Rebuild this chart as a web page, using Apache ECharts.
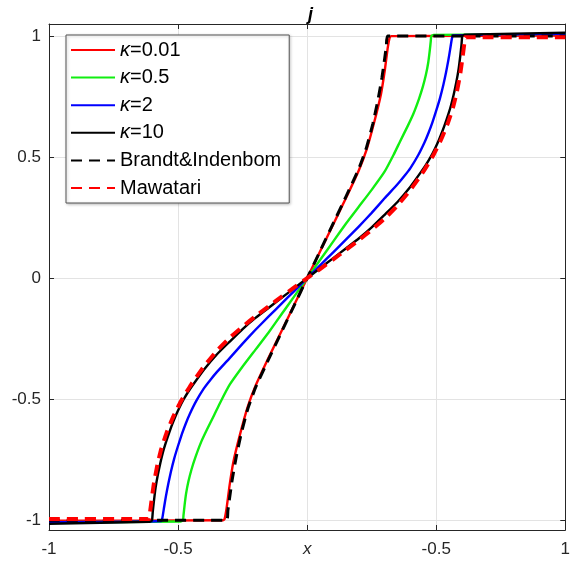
<!DOCTYPE html>
<html>
<head>
<meta charset="utf-8">
<script src="https://cdn.jsdelivr.net/npm/echarts@6/dist/echarts.min.js"></script>
<style>html,body{margin:0;padding:0;background:#fff}#c{width:573px;height:562px}</style>
</head>
<body>
<div id="c"></div>
<script>
// ---- data ----
const xTickValues = [-1, -0.5, 0, 0.5, 1];
const xTickLabels = ['-1', '-0.5', 'x', '-0.5', '1'];
const yTickValues = [-1, -0.5, 0, 0.5, 1];
const yTickLabels = ['-1', '-0.5', '0', '0.5', '1'];
const seriesNames = ['κ=0.01', 'κ=0.5', 'κ=2', 'κ=10', 'Brandt&Indenbom', 'Mawatari'];

const xK001 = [-1, -0.326, -0.32, -0.312, -0.301, -0.286, -0.26, -0.23, -0.2, -0.15, -0.1, -0.05, 0, 0.05, 0.1, 0.15, 0.2, 0.23, 0.26, 0.286, 0.301, 0.312, 0.32, 0.326, 1];
const jK001 = [-1.002, -1.0, -0.995, -0.95, -0.86, -0.76, -0.645, -0.53, -0.445, -0.33, -0.22, -0.11, 0, 0.11, 0.22, 0.33, 0.445, 0.53, 0.645, 0.76, 0.86, 0.95, 0.995, 1.0, 1.002];

const xK05 = [-1, -0.49, -0.481, -0.479, -0.475, -0.469, -0.46, -0.448, -0.433, -0.41, -0.388, -0.36, -0.335, -0.3, -0.25, -0.2, -0.15, -0.1, -0.05, 0, 0.05, 0.1, 0.15, 0.2, 0.25, 0.3, 0.335, 0.36, 0.388, 0.41, 0.433, 0.448, 0.46, 0.469, 0.475, 0.479, 0.481, 0.49, 1];
const jK05 = [-1.008, -1.005, -1.0, -0.98, -0.94, -0.89, -0.84, -0.79, -0.74, -0.675, -0.625, -0.565, -0.51, -0.44, -0.365, -0.295, -0.225, -0.15, -0.075, 0, 0.075, 0.15, 0.225, 0.295, 0.365, 0.44, 0.51, 0.565, 0.625, 0.675, 0.74, 0.79, 0.84, 0.89, 0.94, 0.98, 1.0, 1.005, 1.008];

const xK2 = [-1, -0.565, -0.56, -0.554, -0.547, -0.538, -0.528, -0.515, -0.5, -0.485, -0.47, -0.455, -0.43, -0.4, -0.375, -0.35, -0.3, -0.25, -0.2, -0.15, -0.1, -0.05, 0, 0.05, 0.1, 0.15, 0.2, 0.25, 0.3, 0.35, 0.375, 0.4, 0.43, 0.455, 0.47, 0.485, 0.5, 0.515, 0.528, 0.538, 0.547, 0.554, 0.56, 0.565, 1];
const jK2 = [-1.008, -1.003, -0.985, -0.945, -0.9, -0.85, -0.8, -0.745, -0.692, -0.643, -0.6, -0.562, -0.508, -0.455, -0.42, -0.388, -0.33, -0.27, -0.213, -0.159, -0.106, -0.053, 0, 0.053, 0.106, 0.159, 0.213, 0.27, 0.33, 0.388, 0.42, 0.455, 0.508, 0.562, 0.6, 0.643, 0.692, 0.745, 0.8, 0.85, 0.9, 0.945, 0.985, 1.003, 1.008];

const xK10 = [-1, -0.61, -0.601, -0.598, -0.594, -0.587, -0.578, -0.568, -0.555, -0.54, -0.525, -0.51, -0.495, -0.478, -0.46, -0.44, -0.4, -0.35, -0.3, -0.25, -0.2, -0.15, -0.1, -0.05, 0, 0.05, 0.1, 0.15, 0.2, 0.25, 0.3, 0.35, 0.4, 0.44, 0.46, 0.478, 0.495, 0.51, 0.525, 0.54, 0.555, 0.568, 0.578, 0.587, 0.594, 0.598, 0.601, 0.61, 1];
const jK10 = [-1.014, -1.006, -1.0, -0.965, -0.925, -0.865, -0.81, -0.76, -0.705, -0.655, -0.61, -0.57, -0.535, -0.5, -0.468, -0.437, -0.378, -0.315, -0.262, -0.21, -0.164, -0.123, -0.082, -0.041, 0, 0.041, 0.082, 0.123, 0.164, 0.21, 0.262, 0.315, 0.378, 0.437, 0.468, 0.5, 0.535, 0.57, 0.61, 0.655, 0.705, 0.76, 0.81, 0.865, 0.925, 0.965, 1.0, 1.006, 1.014];

const xBrandt = [-1, -0.312, -0.307, -0.3, -0.29, -0.275, -0.255, -0.23, -0.2, -0.15, -0.1, -0.05, 0, 0.05, 0.1, 0.15, 0.2, 0.23, 0.255, 0.275, 0.29, 0.3, 0.307, 0.312, 1];
const jBrandt = [-1.0, -1.0, -0.96, -0.905, -0.83, -0.74, -0.64, -0.54, -0.452, -0.336, -0.224, -0.112, 0, 0.112, 0.224, 0.336, 0.452, 0.54, 0.64, 0.74, 0.83, 0.905, 0.96, 1.0, 1.0];

const xMawatari = [-1, -0.612, -0.609, -0.603, -0.594, -0.58, -0.565, -0.545, -0.52, -0.49, -0.45, -0.4, -0.35, -0.3, -0.25, -0.2, -0.15, -0.1, -0.05, 0, 0.05, 0.1, 0.15, 0.2, 0.25, 0.3, 0.35, 0.4, 0.45, 0.49, 0.52, 0.545, 0.565, 0.58, 0.594, 0.603, 0.609, 0.612, 1];
const jMawatari = [-0.995, -0.995, -0.97, -0.92, -0.85, -0.77, -0.705, -0.64, -0.575, -0.51, -0.44, -0.365, -0.3, -0.246, -0.2, -0.157, -0.117, -0.077, -0.038, 0, 0.038, 0.077, 0.117, 0.157, 0.2, 0.246, 0.3, 0.365, 0.44, 0.51, 0.575, 0.64, 0.705, 0.77, 0.85, 0.92, 0.97, 0.995, 0.995];

// ---- build ----
const pairs = (xs, ys) => xs.map((x, i) => [x, ys[i]]);
const FONT = '"Liberation Sans", Arial, Helvetica, sans-serif';
const AX = '#262626';

const chart = echarts.init(document.getElementById('c'), null, {renderer: 'canvas'});

function lineSeries(name, xs, ys, color, width, dash, z) {
  return {
    name: name, type: 'line', data: pairs(xs, ys),
    xAxisIndex: 0, yAxisIndex: 0,
    showSymbol: false, symbol: 'none', smooth: 0.15,
    lineStyle: {color: color, width: width, type: dash || 'solid', cap: 'butt', join: 'round'},
    itemStyle: {color: color},
    z: z, animation: false, silent: true
  };
}

const option = {
  animation: false,
  backgroundColor: '#ffffff',
  title: {
    text: 'j', left: 303, top: 1,
    textStyle: {fontFamily: FONT, fontSize: 18, fontWeight: 'bold', fontStyle: 'italic', color: '#000'}
  },
  grid: {left: 49, right: 4, top: 24, bottom: 32, containLabel: false},
  legend: {
    show: true, orient: 'vertical', left: 66, top: 35,
    data: seriesNames,
    itemWidth: 44, itemHeight: 14, itemGap: 7.6,
    padding: [5, 8, 5, 4],
    backgroundColor: '#ffffff', borderColor: '#555555', borderWidth: 1,
    shadowColor: 'rgba(0,0,0,0.25)', shadowBlur: 3, shadowOffsetX: 1, shadowOffsetY: 1,
    itemStyle: {opacity: 0, borderWidth: 0},
    formatter: function (name) {
      if (name.indexOf('κ') === 0) return '{k|κ}' + name.slice(1);
      return name;
    },
    textStyle: {
      fontFamily: FONT, fontSize: 20, color: '#000',
      rich: {k: {fontFamily: FONT, fontSize: 20, fontStyle: 'italic', color: '#000'}}
    },
    selectedMode: false
  },
  xAxis: [{
    type: 'value', min: -1, max: 1, interval: 0.5, position: 'bottom',
    axisLine: {show: true, onZero: false, lineStyle: {color: AX, width: 1}},
    axisTick: {show: true, inside: true, length: 5, lineStyle: {color: AX}},
    axisLabel: {
      show: true, margin: 11, color: AX, fontFamily: FONT, fontSize: 17,
      formatter: function (v) {
        const i = xTickValues.findIndex(t => Math.abs(t - v) < 1e-9);
        if (i < 0) return '';
        const s = xTickLabels[i];
        return s === 'x' ? '{i|x}' : s;
      },
      rich: {i: {fontFamily: FONT, fontSize: 17, fontStyle: 'italic', color: AX}}
    },
    splitLine: {show: true, lineStyle: {color: '#e3e3e3', width: 1}}
  }, {
    type: 'value', min: -1, max: 1, interval: 0.5, position: 'top',
    axisLine: {show: true, onZero: false, lineStyle: {color: AX, width: 1}},
    axisTick: {show: true, inside: true, length: 5, lineStyle: {color: AX}},
    axisLabel: {show: false}, splitLine: {show: false}
  }],
  yAxis: [{
    type: 'value', min: -1.04, max: 1.05, position: 'left',
    axisLine: {show: true, onZero: false, lineStyle: {color: AX, width: 1}},
    axisTick: {show: true, inside: true, length: 5, lineStyle: {color: AX}, customValues: yTickValues},
    axisLabel: {
      show: true, margin: 8, color: AX, fontFamily: FONT, fontSize: 17,
      customValues: yTickValues,
      formatter: function (v) {
        const i = yTickValues.findIndex(t => Math.abs(t - v) < 1e-9);
        return i < 0 ? '' : yTickLabels[i];
      }
    },
    splitLine: {show: true, lineStyle: {color: '#e3e3e3', width: 1}}
  }, {
    type: 'value', min: -1.04, max: 1.05, position: 'right',
    axisLine: {show: true, onZero: false, lineStyle: {color: AX, width: 1}},
    axisTick: {show: true, inside: true, length: 5, lineStyle: {color: AX}, customValues: yTickValues},
    axisLabel: {show: false, customValues: yTickValues}, splitLine: {show: false}
  }],
  series: [
    lineSeries(seriesNames[0], xK001, jK001, '#ff0000', 2.4, 'solid', 2),
    lineSeries(seriesNames[1], xK05, jK05, '#11ee11', 2.4, 'solid', 3),
    lineSeries(seriesNames[2], xK2, jK2, '#0000ff', 2.4, 'solid', 4),
    lineSeries(seriesNames[3], xK10, jK10, '#000000', 2.4, 'solid', 5),
    lineSeries(seriesNames[4], xBrandt, jBrandt, '#000000', 3, [11, 7], 6),
    lineSeries(seriesNames[5], xMawatari, jMawatari, '#ff0000', 4, [11, 7], 7)
  ]
};
chart.setOption(option);
</script>
</body>
</html>
